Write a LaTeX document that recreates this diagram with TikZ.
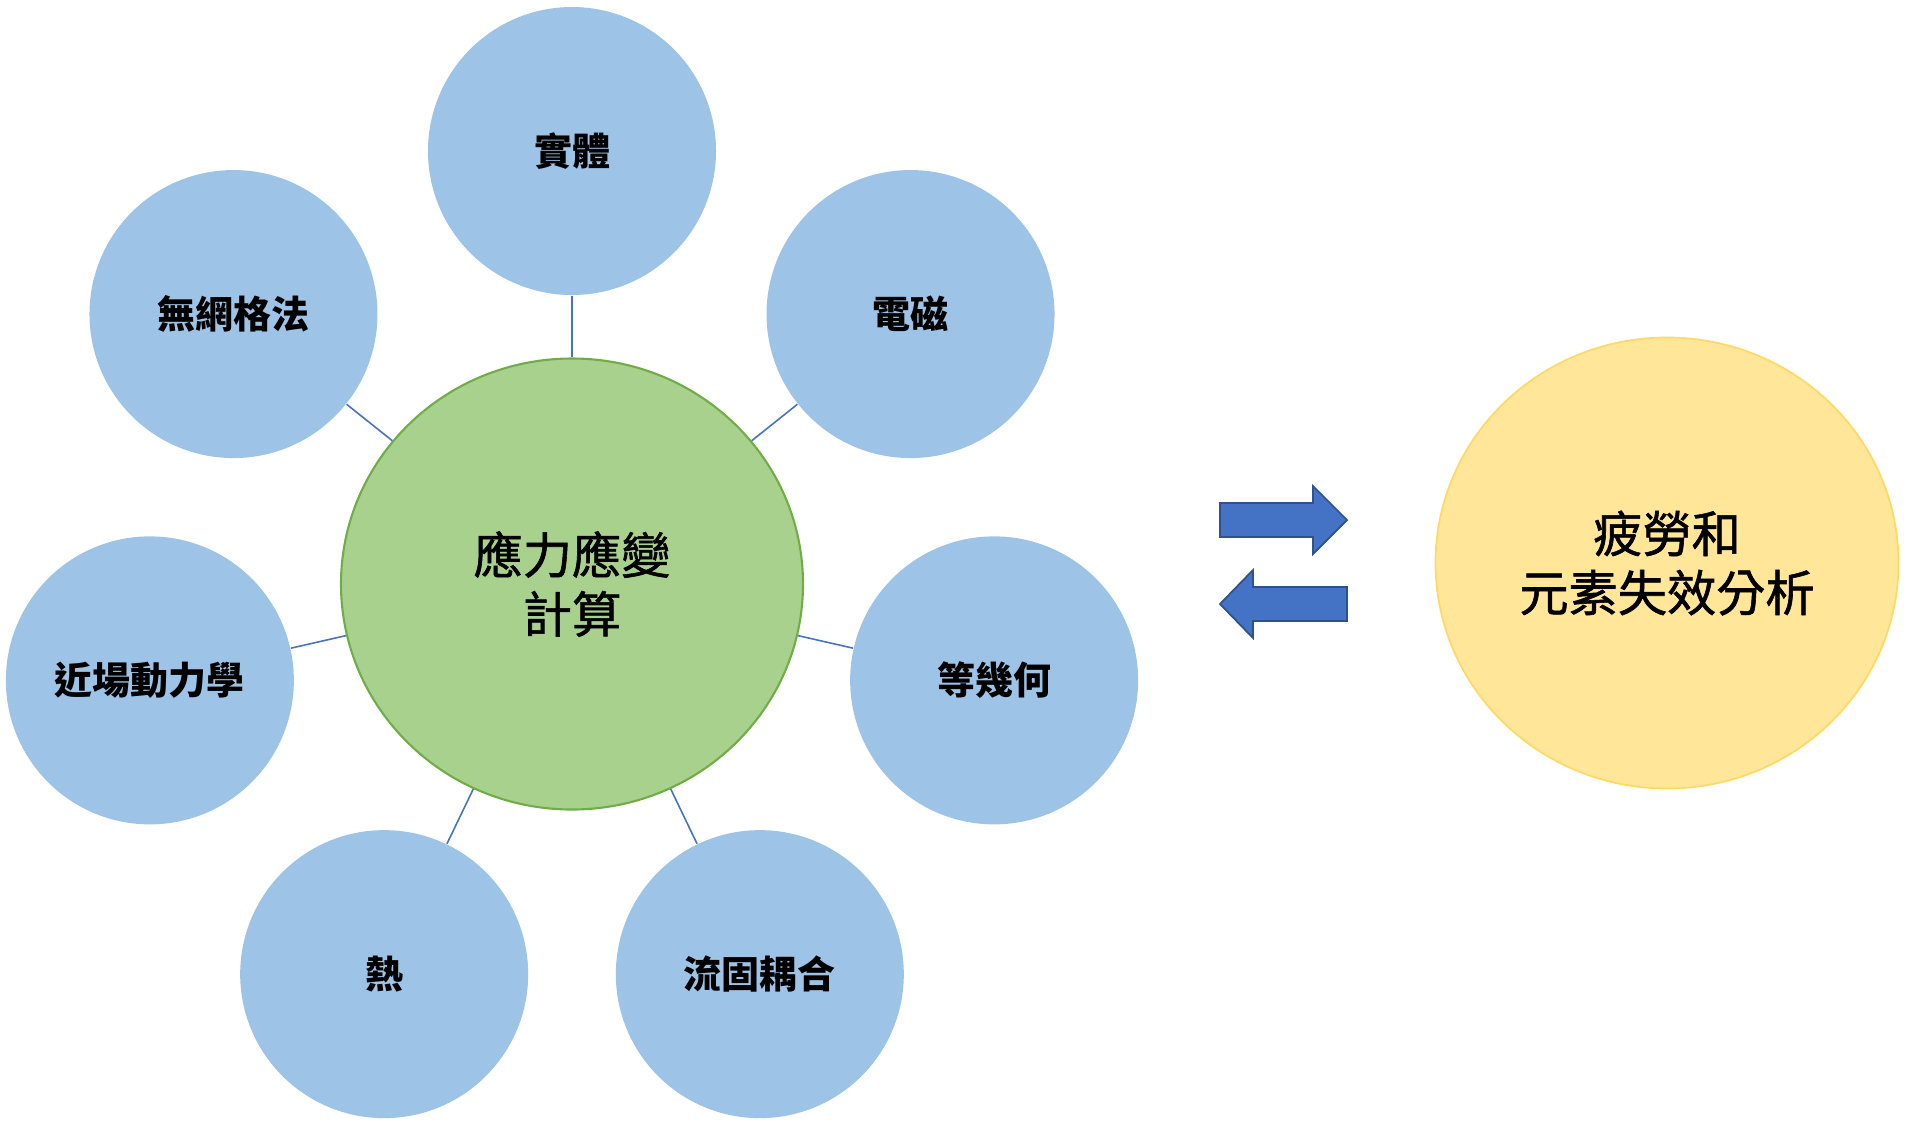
\documentclass[tikz,border=0pt]{standalone}
\usepackage{fontspec}
\setmainfont{Noto Sans CJK TC}
\newfontfamily\heavycjk[FakeBold=1.2]{Noto Sans CJK TC}
\usetikzlibrary{calc}
\usetikzlibrary{shapes.geometric}
\definecolor{topicblue}{HTML}{9DC3E6}
\definecolor{coregreen}{HTML}{A9D18E}
\definecolor{coreedge}{HTML}{70AD47}
\definecolor{resultyellow}{HTML}{FFE699}
\definecolor{resultedge}{HTML}{FFD966}
\definecolor{linkblue}{HTML}{4472C4}
\definecolor{arrowedge}{HTML}{2F528F}
\tikzset{
  topic/.style={circle, fill=topicblue, minimum size=2.88cm, inner sep=0pt, font=\fontsize{10.8}{13}\selectfont\bfseries},
  core/.style={ellipse, fill=coregreen, draw=coreedge, line width=0.6pt, minimum width=4.62cm, minimum height=4.51cm, inner sep=0pt, align=center, font=\fontsize{14}{16.8}\selectfont\heavycjk},
  result/.style={ellipse, fill=resultyellow, draw=resultedge, line width=0.5pt, minimum width=4.63cm, minimum height=4.51cm, inner sep=0pt, align=center, font=\fontsize{14}{16.8}\selectfont\heavycjk},
  link/.style={draw=linkblue, line width=0.45pt},
  bigarrow/.style={fill=linkblue, draw=arrowedge, line width=0.5pt}
  }

\begin{document}
\begin{tikzpicture}
	\useasboundingbox (0,0) rectangle (19.08,-11.25);

	% Nodes
	\node[core] (stress) at (5.72,-5.84) {應力應變\\計算};
	\node[topic] (solid) at ($(stress)+(90:4.33)$) {實體};
	\node[topic] (em) at ($(stress)+(38.57:4.33)$) {電磁};
	\node[topic] (iga) at ($(stress)+(-12.86:4.33)$) {等幾何};
	\node[topic] (fsi) at ($(stress)+(-64.29:4.33)$) {流固耦合};
	\node[topic] (heat) at ($(stress)+(-115.71:4.33)$) {熱};
	\node[topic] (peri) at ($(stress)+(-167.14:4.33)$) {近場動力學};
	\node[topic] (meshfree) at ($(stress)+(141.43:4.33)$) {無網格法};
	\node[result] (fatigue) at (16.67,-5.63) {疲勞和\\元素失效分析};

	% Lines
	\draw [link] (solid) -- (stress);
	\draw [link] (em) -- (stress);
	\draw [link] (iga) -- (stress);
	\draw [link] (fsi) -- (stress);
	\draw [link] (heat) -- (stress);
	\draw [link] (peri) -- (stress);
	\draw [link] (meshfree) -- (stress);

	% Arrows
	\draw [bigarrow] (12.20,-5.03) -- (13.13,-5.03) -- (13.13,-4.86) -- (13.47,-5.20) -- (13.13,-5.54) -- (13.13,-5.37) -- (12.20,-5.37) -- cycle;
	\draw [bigarrow] (13.47,-5.87) -- (12.53,-5.87) -- (12.53,-5.70) -- (12.20,-6.04) -- (12.53,-6.38) -- (12.53,-6.21) -- (13.47,-6.21) -- cycle;
\end{tikzpicture}
\end{document}
